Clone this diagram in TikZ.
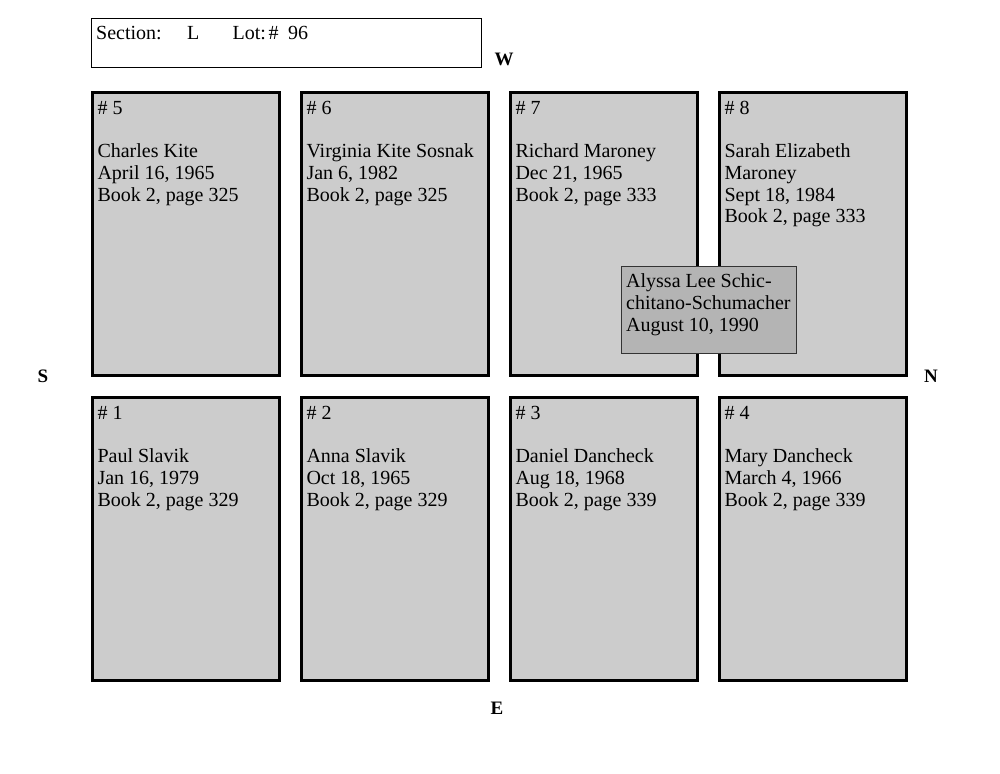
\documentclass[tikz,border=0pt]{standalone}
\usepackage{fontspec}
\setmainfont{Liberation Serif}
\definecolor{plotgray}{RGB}{204,204,204}
\definecolor{overgray}{RGB}{180,180,180}
\newcommand{\ptxt}{\fontsize{20}{21.7}\selectfont}
\tikzset{
  plot/.style={draw=black, line width=3pt, fill=plotgray, minimum width=187pt, minimum height=283pt, inner sep=0pt, outer sep=0pt, anchor=north west},
  ptext/.style={anchor=base west, inner sep=0pt, font=\ptxt},
  compass/.style={font=\fontsize{19}{20}\selectfont\bfseries, anchor=base, inner sep=0pt}
}
\newcommand{\lines}[1]{\begin{tabular}[t]{@{}l@{}}#1\end{tabular}}
\begin{document}
\begin{tikzpicture}[x=1pt,y=-1pt]
\useasboundingbox (0,0) rectangle (1000,773);
% header
\node[draw=black, line width=1.3pt, minimum width=389.6pt, minimum height=48.6pt, inner sep=0pt, outer sep=0pt, anchor=north west] (hdr) at (91.7,18.7) {};
\node[ptext] (sec) at (96,40) {Section:};
\node[ptext] (secv) at (187,40) {L};
\node[ptext] (lot) at (232.5,40) {Lot:};
\node[ptext] (hash) at (268.5,40) {\#};
\node[ptext] (lotv) at (288,40) {96};
% plots
\node[plot] (p5) at (92.5,92.5) {};
\node[plot] (p6) at (301.5,92.5) {};
\node[plot] (p7) at (510.5,92.5) {};
\node[plot] (p8) at (719.5,92.5) {};
\node[plot] (p1) at (92.5,397.5) {};
\node[plot] (p2) at (301.5,397.5) {};
\node[plot] (p3) at (510.5,397.5) {};
\node[plot] (p4) at (719.5,397.5) {};
\node[ptext] (t5) at ([shift={(4.8,21.8)}]p5.north west) {\lines{\# 5\\ \\ Charles Kite\\ April 16, 1965\\ Book 2, page 325}};
\node[ptext] (t6) at ([shift={(4.8,21.8)}]p6.north west) {\lines{\# 6\\ \\ Virginia Kite Sosnak\\ Jan 6, 1982\\ Book 2, page 325}};
\node[ptext] (t7) at ([shift={(4.8,21.8)}]p7.north west) {\lines{\# 7\\ \\ Richard Maroney\\ Dec 21, 1965\\ Book 2, page 333}};
\node[ptext] (t8) at ([shift={(4.8,21.8)}]p8.north west) {\lines{\# 8\\ \\ Sarah Elizabeth\\ Maroney\\ Sept 18, 1984\\ Book 2, page 333}};
\node[ptext] (t1) at ([shift={(4.8,21.8)}]p1.north west) {\lines{\# 1\\ \\ Paul Slavik\\ Jan 16, 1979\\ Book 2, page 329}};
\node[ptext] (t2) at ([shift={(4.8,21.8)}]p2.north west) {\lines{\# 2\\ \\ Anna Slavik\\ Oct 18, 1965\\ Book 2, page 329}};
\node[ptext] (t3) at ([shift={(4.8,21.8)}]p3.north west) {\lines{\# 3\\ \\ Daniel Dancheck\\ Aug 18, 1968\\ Book 2, page 339}};
\node[ptext] (t4) at ([shift={(4.8,21.8)}]p4.north west) {\lines{\# 4\\ \\ Mary Dancheck\\ March 4, 1966\\ Book 2, page 339}};
% overlay
\node[draw=black!80, line width=1pt, fill=overgray, minimum width=175pt, minimum height=87pt, inner sep=0pt, outer sep=0pt, anchor=north west] (ov) at (621.5,266.5) {};
\node[ptext] (tov) at ([shift={(4.5,21.2)}]ov.north west) {\lines{Alyssa Lee Schic-\\ chitano-Schumacher\\ August 10, 1990}};
% compass
\node[compass] (W) at (504,66) {W};
\node[compass] (S) at (43,382) {S};
\node[compass] (N) at (931,382) {N};
\node[compass] (E) at (497,714) {E};
\end{tikzpicture}
\end{document}
